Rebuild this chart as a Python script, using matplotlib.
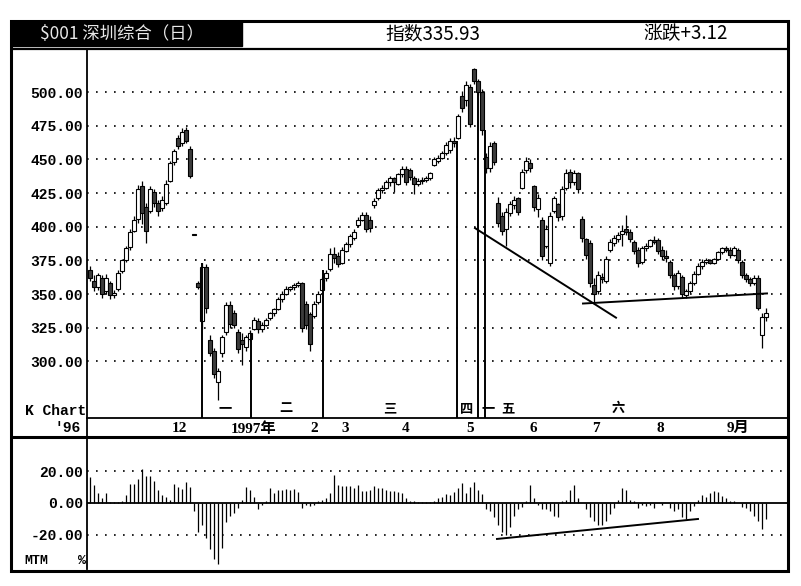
"""Shenzhen composite daily K chart with MTM panel, Oct 1996 - Sep 1997."""

import numpy as np
import matplotlib
matplotlib.use("Agg")
import matplotlib.pyplot as plt
from matplotlib.lines import Line2D
from matplotlib.patches import Rectangle

# Daily bars (index points)
opens = [368, 360, 355, 362, 352, 358, 349, 354, 367, 375,
         385, 397, 406, 430, 415, 412, 426, 418, 414, 418,
         434, 448, 466, 462, 472, 458, 395, 358, 330, 370,
         316, 308, 285, 306, 322, 342, 336, 322, 316, 311,
         317, 324, 330, 324, 327, 332, 336, 339, 346, 350,
         354, 355, 357, 358, 343, 335, 334, 344, 353, 362,
         369, 380, 378, 373, 382, 387, 392, 401, 405, 409,
         405, 416, 421, 427, 429, 433, 436, 432, 439, 443,
         442, 436, 432, 434, 435, 436, 446, 449, 451, 455,
         457, 464, 466, 497, 494, 504, 517, 508, 500, 452,
         444, 462, 418, 408, 398, 410, 416, 421, 429, 442,
         447, 430, 413, 405, 386, 373, 412, 417, 408, 429,
         441, 433, 440, 406, 391, 388, 357, 352, 363, 360,
         383, 388, 391, 395, 398, 396, 389, 383, 374, 384,
         386, 390, 390, 383, 378, 374, 364, 356, 363, 349,
         352, 358, 365, 371, 374, 375, 373, 376, 381, 384,
         383, 379, 383, 374, 364, 361, 358, 362, 320, 333]
highs = [371, 364, 366, 364, 365, 360, 353, 368, 376, 386,
         398, 408, 431, 434, 418, 430, 428, 420, 423, 435,
         449, 458, 468, 473, 474, 460, 395, 360, 373, 372,
         320, 310, 295, 320, 344, 345, 338, 324, 321, 320,
         323, 333, 332, 329, 332, 337, 340, 348, 352, 356,
         356, 358, 360, 359, 345, 337, 345, 352, 363, 368,
         384, 385, 381, 385, 389, 395, 398, 407, 411, 411,
         408, 421, 429, 431, 435, 438, 437, 440, 445, 445,
         444, 438, 436, 437, 438, 441, 452, 453, 456, 463,
         466, 467, 484, 501, 508, 506, 518, 510, 502, 455,
         463, 464, 422, 411, 414, 419, 423, 422, 443, 452,
         450, 431, 424, 407, 401, 411, 423, 418, 430, 443,
         443, 442, 441, 408, 392, 390, 362, 367, 366, 378,
         391, 394, 396, 401, 409, 398, 390, 385, 386, 388,
         391, 393, 392, 386, 383, 375, 366, 368, 364, 354,
         360, 367, 373, 376, 377, 376, 377, 382, 385, 386,
         385, 386, 384, 375, 366, 363, 364, 364, 336, 340]
lows = [360, 352, 353, 347, 350, 346, 347, 352, 366, 374,
        383, 396, 403, 402, 388, 410, 415, 408, 412, 416,
        433, 446, 458, 460, 462, 436, 394, 354, 324, 336,
        304, 288, 271, 303, 320, 325, 325, 306, 297, 308,
        315, 323, 321, 322, 326, 331, 334, 338, 344, 349,
        352, 353, 355, 322, 324, 308, 332, 343, 352, 360,
        367, 373, 370, 372, 381, 385, 390, 400, 404, 396,
        396, 414, 420, 425, 428, 430, 426, 431, 437, 431,
        435, 424, 430, 432, 433, 435, 445, 447, 450, 453,
        455, 459, 465, 485, 490, 474, 506, 498, 468, 440,
        441, 446, 400, 394, 386, 408, 413, 409, 428, 440,
        441, 412, 407, 375, 384, 371, 410, 404, 405, 427,
        429, 431, 425, 389, 376, 355, 343, 350, 358, 358,
        381, 386, 389, 386, 394, 389, 380, 370, 372, 382,
        385, 387, 380, 375, 374, 362, 353, 354, 347, 347,
        351, 357, 364, 369, 372, 372, 372, 375, 380, 381,
        377, 378, 373, 362, 359, 356, 357, 338, 310, 330]
closes = [362, 355, 364, 350, 362, 349, 351, 366, 375, 384,
          396, 405, 428, 410, 397, 428, 418, 412, 420, 432,
          447, 456, 460, 470, 464, 438, 394, 355, 370, 340,
          306, 291, 293, 318, 342, 328, 327, 309, 313, 318,
          321, 331, 324, 327, 331, 336, 339, 346, 350, 354,
          355, 357, 358, 325, 327, 313, 343, 350, 361, 366,
          380, 377, 372, 383, 387, 393, 396, 405, 409, 398,
          399, 419, 427, 429, 433, 436, 433, 439, 443, 433,
          437, 432, 434, 435, 436, 440, 450, 451, 455, 461,
          464, 462, 482, 488, 505, 476, 508, 500, 472, 444,
          460, 448, 403, 397, 411, 417, 420, 411, 441, 449,
          444, 415, 421, 378, 398, 408, 421, 407, 428, 440,
          433, 440, 428, 392, 379, 358, 350, 364, 361, 376,
          389, 392, 394, 397, 396, 391, 382, 373, 384, 386,
          390, 389, 382, 378, 377, 364, 356, 366, 350, 352,
          358, 365, 371, 374, 375, 373, 376, 381, 384, 383,
          379, 384, 375, 364, 361, 358, 362, 340, 333, 336]
mtm = [16.5, 11, 6, 3, 6.5, 0.5, 0.5, 0.5, 1, 5,
       12, 12, 15, 21.5, 17, 17, 13.5, 8, 5, 4,
       2, 12, 10, 9, 13, 10, -5, -18, -14, -22,
       -29, -35, -38, -28, -12, -8, -6, -3, 2, 10,
       8, 4, -4, -1, 1, 9.5, 6, 8, 8, 8.5,
       8, 8.5, 7, -3, -1, -2, -1.5, 1, 2, 3,
       6, 17.5, 11, 10.5, 10.5, 10.5, 9.5, 11.5, 7.5, 7.5,
       8, 10.5, 9.5, 9.5, 8, 7.5, 7.5, 7, 6, 3,
       1.5, 1.5, 0.5, 0.5, 0.5, 0.5, 1, 3, 4, 5.5,
       5, 7, 9.5, 12.5, 6, 10, 13, 8, 5.5, -4,
       -5, -9, -14, -18, -20, -15, -8, -4, -2.5, 1,
       11.5, 3, -1, -4, -4, -5, -8, -9, 1, 2,
       8, 11, 3, 0, -4, -9, -11, -14, -14, -11,
       -7, -3, 2, 9.5, 8, 2, 1.5, -3, -1, -2,
       -1, -3, 0, -1, 0, -3, -5, -4, -9, -10,
       -5, -2, 2, 5, 3.5, 6, 7.5, 7, 4.5, 3,
       1.5, 1, 0, -2.5, -3, -5, -8, -11, -16, -10]

month_labels = ["12", "1997年", "2", "3", "4", "5", "6", "7", "8", "9月"]
month_pos = [22.4, 40.9, 56.1, 63.75, 78.9, 95.1, 110.75, 126.4, 142.6, 161.9]

wave_labels = ["一", "二", "三", "四", "一", "五", "六"]
wave_label_pos = [33.75, 49, 75, 94.25, 99.5, 104.5, 132]
wave_line_pos = [28, 40.25, 58.25, 91.75, 97, 98.75]
wave_line_top = [373, 321, 368, 464, 500, 472]

trend_down_x, trend_down_y = [96.25, 131.5], [399, 332.5]
trend_flat_x, trend_flat_y = [123.25, 169.25], [343, 350.5]
mtm_trend_x, mtm_trend_y = [101.75, 152], [-22.5, -10]

price_ticks = [300, 325, 350, 375, 400, 425, 450, 475, 500]
mtm_ticks = [-20, 0, 20]

W, H = 801, 586
CJK = ["Noto Sans CJK SC", "DejaVu Sans"]
MONO = ["Liberation Mono", "DejaVu Sans Mono"]
SERIF = ["Liberation Serif", "Noto Sans CJK SC"]


def fx(x):
    return x / W


def fy(y):
    return 1 - y / H


def fig_line(fig, xs, ys, lw):
    fig.add_artist(Line2D([fx(v) for v in xs], [fy(v) for v in ys],
                          color="black", lw=lw, solid_capstyle="butt"))


def main() -> None:
    o, h, l, c = (np.array(a, dtype=float) for a in (opens, highs, lows, closes))
    x = np.arange(len(c))
    up = c >= o

    fig = plt.figure(figsize=(W / 100, H / 100), dpi=100)
    fig.patch.set_facecolor("white")

    ax = fig.add_axes([fx(87), fy(418), fx(787) - fx(87), fy(49) - fy(418)])
    ax2 = fig.add_axes([fx(87), fy(569), fx(787) - fx(87), fy(437) - fy(569)])

    # price panel
    for t in price_ticks:
        ax.axhline(t, color="black", lw=1.2, ls=(0, (1, 4.4)), zorder=1)
    ax.vlines(x, l, h, color="black", lw=0.9, zorder=2)
    ax.bar(x[up], (c - o)[up], bottom=o[up], width=0.8, facecolor="white",
           edgecolor="black", lw=0.8, zorder=3)
    ax.bar(x[~up], (o - c)[~up], bottom=c[~up], width=0.8, facecolor="#3c3c3c",
           edgecolor="black", lw=0.8, zorder=3)
    ax.set_ylim(258, 532)
    ax.vlines(wave_line_pos, 258, wave_line_top, color="black", lw=1.4, zorder=4)
    ax.plot(trend_down_x, trend_down_y, color="black", lw=1.4, zorder=4)
    ax.plot(trend_flat_x, trend_flat_y, color="black", lw=1.4, zorder=4)
    for lab, pos in zip(wave_labels, wave_label_pos):
        ax.text(pos, 265.4, lab, family=CJK, fontsize=9.5, fontweight="bold",
                ha="center", va="center")

    ax.set_xlim(-0.75, 174.25)
    ax.set_yticks(price_ticks, [f"{t:.2f}" for t in price_ticks])
    ax.set_xticks(month_pos, month_labels)
    ax.tick_params(axis="both", length=0)
    ax.tick_params(axis="y", pad=3)
    ax.tick_params(axis="x", pad=3)
    for t in ax.get_yticklabels():
        t.set_family(MONO)
        t.set_fontsize(10.5)
        t.set_fontweight("bold")
    for t in ax.get_xticklabels():
        t.set_family(SERIF)
        t.set_fontsize(11)
        t.set_fontweight("bold")
    for s in ("top", "right"):
        ax.spines[s].set_visible(False)
    ax.spines["left"].set_linewidth(1.3)
    ax.spines["bottom"].set_linewidth(1.3)

    # MTM panel
    for t in (-20, 20):
        ax2.axhline(t, color="black", lw=1.2, ls=(0, (1, 4.4)), zorder=1)
    ax2.axhline(0, color="black", lw=1.3, zorder=3)
    ax2.vlines(x, 0, mtm, color="black", lw=0.9, zorder=2)
    ax2.plot(mtm_trend_x, mtm_trend_y, color="black", lw=1.4, zorder=4)
    ax2.set_xlim(-0.75, 174.25)
    ax2.set_ylim(-41.3, 41.3)
    ax2.set_xticks([])
    ax2.set_yticks(mtm_ticks, [f"{t:.2f}" for t in mtm_ticks])
    ax2.tick_params(axis="y", length=0, pad=3)
    for t in ax2.get_yticklabels():
        t.set_family(MONO)
        t.set_fontsize(10.5)
        t.set_fontweight("bold")
    for s in ("top", "right", "bottom"):
        ax2.spines[s].set_visible(False)
    ax2.spines["left"].set_linewidth(1.3)

    # frame and header
    fig.add_artist(Rectangle((fx(11), fy(571)), fx(788) - fx(11), fy(21) - fy(571),
                             transform=fig.transFigure, fill=False, lw=2.2,
                             edgecolor="black"))
    fig_line(fig, [11, 788], [49, 49], 1.6)
    fig_line(fig, [11, 788], [437, 437], 2.2)
    fig_line(fig, [87, 87], [418, 437], 1.3)
    fig.add_artist(Rectangle((fx(12), fy(46)), fx(242) - fx(12), fy(22) - fy(46),
                             transform=fig.transFigure, facecolor="black",
                             edgecolor="black"))
    fig.text(fx(122), fy(34), "$001 深圳综合（日）", color="#e8e8e8", family=CJK,
             fontsize=12.5, ha="center", va="center")
    fig.text(fx(433), fy(34), "指数335.93", family=CJK, fontsize=13.5,
             ha="center", va="center")
    fig.text(fx(686), fy(34), "涨跌+3.12", family=CJK, fontsize=13.5,
             ha="center", va="center")

    fig.text(fx(86), fy(411), "K Chart", family=MONO, fontsize=10.5,
             fontweight="bold", ha="right", va="center")
    fig.text(fx(81), fy(428), "'96", family=MONO, fontsize=10.5,
             fontweight="bold", ha="right", va="center")
    fig.text(fx(24), fy(561), "MTM", family=MONO, fontsize=9.5,
             fontweight="bold", ha="left", va="center")
    fig.text(fx(86), fy(561), "%", family=MONO, fontsize=9.5,
             fontweight="bold", ha="right", va="center")

    fig.savefig("out.png", dpi=100)


if __name__ == "__main__":
    main()
